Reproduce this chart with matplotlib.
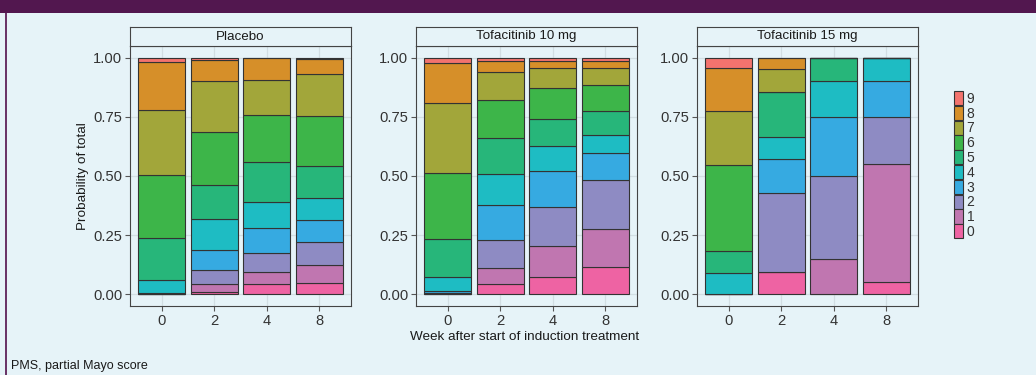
import numpy as np
import matplotlib.pyplot as plt
from matplotlib.patches import Patch, Rectangle

plt.rcParams['font.family'] = ['Liberation Sans', 'DejaVu Sans']

# partial Mayo score levels and their fill colours (0 .. 9)
levels = ['0', '1', '2', '3', '4', '5', '6', '7', '8', '9']
level_colors = ['#ee63a3', '#c076b0', '#8e8bc3', '#36aae1', '#1ebcc3',
                '#27b67a', '#3db549', '#a2a63a', '#d68f29', '#f3736e']

weeks = ['0', '2', '4', '8']
groups = ['Placebo', 'Tofacitinib 10 mg', 'Tofacitinib 15 mg']

# probability of each PMS level, one row per week (levels 0..9)
placebo = [
    [0.000, 0.000, 0.000, 0.004, 0.056, 0.177, 0.266, 0.277, 0.201, 0.019],
    [0.010, 0.035, 0.057, 0.087, 0.127, 0.145, 0.226, 0.214, 0.089, 0.010],
    [0.041, 0.051, 0.083, 0.106, 0.108, 0.171, 0.196, 0.152, 0.092, 0.000],
    [0.048, 0.075, 0.098, 0.092, 0.095, 0.136, 0.208, 0.178, 0.066, 0.004],
]
tofa10 = [
    [0.000, 0.000, 0.004, 0.009, 0.060, 0.160, 0.278, 0.296, 0.173, 0.020],
    [0.041, 0.070, 0.117, 0.149, 0.131, 0.153, 0.160, 0.118, 0.046, 0.015],
    [0.071, 0.134, 0.162, 0.153, 0.108, 0.115, 0.129, 0.083, 0.032, 0.013],
    [0.113, 0.161, 0.208, 0.115, 0.076, 0.103, 0.111, 0.072, 0.028, 0.013],
]
tofa15 = [
    [0.000, 0.000, 0.000, 0.000, 0.091, 0.091, 0.364, 0.227, 0.182, 0.045],
    [0.095, 0.000, 0.333, 0.143, 0.095, 0.190, 0.000, 0.095, 0.049, 0.000],
    [0.000, 0.150, 0.350, 0.250, 0.150, 0.100, 0.000, 0.000, 0.000, 0.000],
    [0.050, 0.500, 0.200, 0.150, 0.100, 0.000, 0.000, 0.000, 0.000, 0.000],
]
all_data = [placebo, tofa10, tofa15]

W, H = 1036, 375
bg = '#e6f3f8'
fig = plt.figure(figsize=(W / 100, H / 100), dpi=100, facecolor=bg)

# header band and left border
fig.patches.append(Rectangle((0, 1 - 13 / H), 1, 13 / H, transform=fig.transFigure,
                             facecolor='#52174f', edgecolor='none', zorder=0))
fig.patches.append(Rectangle((5 / W, 0), 2 / W, 1 - 13 / H, transform=fig.transFigure,
                             facecolor='#6a3568', edgecolor='none', zorder=0))

panel_x = [(130, 351), (416, 637), (697, 918)]
x = np.arange(1, len(weeks) + 1)

for (l, r), name, data in zip(panel_x, groups, all_data):
    ax = fig.add_axes([l / W, 1 - 306 / H, (r - l) / W, 260 / H], facecolor=bg)
    vals = np.array(data)
    bottom = np.zeros(len(weeks))
    for k in range(len(levels)):
        ax.bar(x, vals[:, k], width=0.9, bottom=bottom, color=level_colors[k],
               edgecolor='#333333', linewidth=0.8, zorder=3)
        bottom += vals[:, k]
    ax.set_xlim(0.4, 4.6)
    ax.set_ylim(-0.05, 1.05)
    ax.set_xticks(x)
    ax.set_xticklabels(weeks)
    ax.set_yticks([0, 0.25, 0.5, 0.75, 1.0])
    ax.set_yticklabels(['0.00', '0.25', '0.50', '0.75', '1.00'])
    ax.grid(True, color='#d2dee3', linewidth=0.9, zorder=0)
    ax.tick_params(length=3.5, width=0.8, color='#555555', labelcolor='#333333',
                   labelsize=10.6, pad=2)
    for s in ax.spines.values():
        s.set_color('#444444')
        s.set_linewidth(0.8)

    # facet strip
    st = fig.add_axes([l / W, 1 - 46 / H, (r - l) / W, 19 / H], facecolor=bg)
    st.set_xticks([])
    st.set_yticks([])
    for s in st.spines.values():
        s.set_color('#444444')
        s.set_linewidth(0.8)
    st.text(0.5, 0.5, name, ha='center', va='center', fontsize=9.6,
            color='#1a1a1a', transform=st.transAxes)

fig.text(83 / W, 1 - 176 / H, 'Probability of total', rotation=90,
         ha='center', va='center', fontsize=9.7, color='#1a1a1a')
fig.text(525 / W, 1 - 337 / H, 'Week after start of induction treatment',
         ha='center', va='center', fontsize=9.7, color='#1a1a1a')
fig.text(11 / W, 1 - 366 / H, 'PMS, partial Mayo score',
         ha='left', va='center', fontsize=9, color='#1a1a1a')

# legend, highest level on top
handles = [Patch(facecolor=level_colors[k], edgecolor='#333333', linewidth=0.8)
           for k in range(len(levels) - 1, -1, -1)]
fig.legend(handles, levels[::-1], loc='upper left',
           bbox_to_anchor=(954 / W, 1 - 91 / H), frameon=False,
           fontsize=10, handlelength=0.65, handleheight=1.2,
           labelspacing=0, handletextpad=0.25, borderpad=0, borderaxespad=0,
           labelcolor='#333333')

fig.savefig('out.png', dpi=100, facecolor=bg)
